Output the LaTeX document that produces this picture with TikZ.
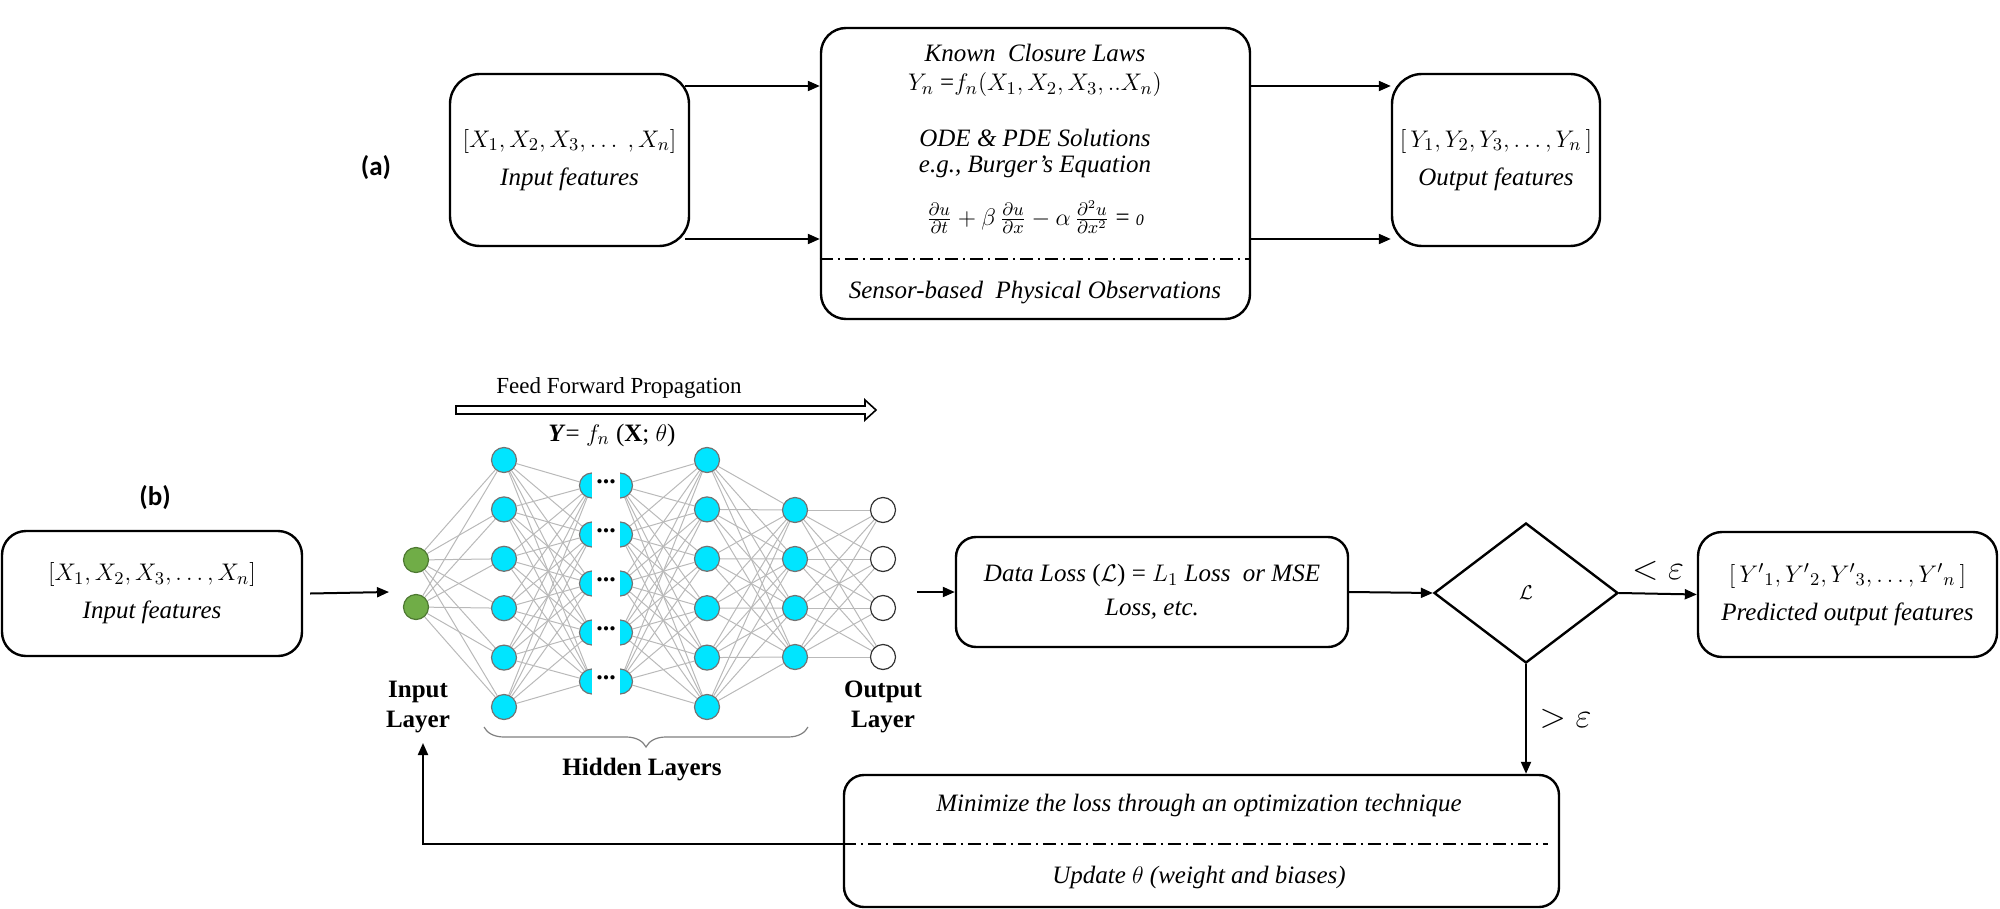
\documentclass[tikz,border=0pt]{standalone}
\usepackage{amsmath}
\usepackage{amssymb}
\usepackage{fontspec}
\setmainfont{Liberation Serif}
\newfontfamily\tagfont{Carlito}
\usepackage{xcolor}
\definecolor{nncyan}{RGB}{0,229,255}
\definecolor{nngreen}{RGB}{112,173,71}
\definecolor{nnedge}{RGB}{185,185,185}
\usepackage{tikz}
\usetikzlibrary{arrows.meta, positioning, calc, shapes.geometric, decorations.pathreplacing, backgrounds}
\tikzstyle{block} = [draw, rectangle, rounded corners=15pt, line width=1.2pt, align=center, font=\fontsize{12.5}{19}\selectfont]
\tikzstyle{txt} = [inner sep=0pt, font=\fontsize{12.5}{15}\selectfont]
\tikzstyle{lbl} = [inner sep=0pt, align=center, font=\bfseries\fontsize{12.5}{15}\selectfont]
\tikzstyle{flow} = [line width=1pt, -{Triangle[length=6pt,width=5pt]}]
\tikzstyle{dashdot} = [line width=1pt, dash pattern=on 6.5pt off 2.5pt on 1pt off 2.5pt]
\tikzstyle{neuron} = [circle, draw=black!55, line width=0.6pt, fill=nncyan, minimum size=12.5pt, inner sep=0pt]
\tikzstyle{inneuron} = [neuron, fill=nngreen, draw=nngreen!70!black]
\tikzstyle{outneuron} = [neuron, fill=white, draw=black!80]
\tikzstyle{synapse} = [draw=nnedge, line width=0.5pt]

\begin{document}
\begin{tikzpicture}[x=0.5pt, y=-0.5pt]
    \useasboundingbox (0,0) rectangle (2000,909);

    % (a) known physics
    \node[font=\tagfont\bfseries\fontsize{13.5}{13.5}\selectfont] (tagA) at (376,168) {(a)};
    \node[block, minimum width=119.5pt, minimum height=86pt] (inA) at (569.5,160)
    {$[X_1, X_2, X_3, \ldots\ , X_n]$\\ \textit{Input features}};
    \node[block, rounded corners=12.5pt, minimum width=214.5pt, minimum height=145.5pt] (midA) at (1035.5,173.5) {};
    \node[block, minimum width=104pt, minimum height=86pt] (outA) at (1496,160)
    {$[\,Y_1, Y_2, Y_3, \ldots, Y_n\,]$\\ \textit{Output features}};

    % texts of the middle block
    \node[txt] (closure) at (1035,53) {\textit{Known\ \ Closure Laws}};
    \node[txt] (closureEq) at (1035,85) {$Y_n$ =$f_n(X_1,X_2,X_3,..X_n)$};
    \node[txt] (ode) at (1035,138) {\textit{ODE \& PDE Solutions}};
    \node[txt] (burger) at (1035,167) {\textit{e.g., Burger's Equation}};
    \node[txt] (burgerEq) at (1035,217)
    {$\frac{\partial u}{\partial t} + \beta\,\frac{\partial u}{\partial x} - \alpha\,\frac{\partial^2 u}{\partial x^2}$ = \textit{\footnotesize 0}};
    \coordinate (sepA) at (0,259);
    \draw[dashdot] (midA.west |- sepA) -- (midA.east |- sepA);
    \node[txt] (sensor) at (1035,293) {\textit{Sensor-based\ \ Physical Observations}};

    % arrows of (a)
    \coordinate (rowA1) at (0,86);
    \coordinate (rowA2) at (0,239);
    \draw[flow] ($(inA.east |- rowA1)+(-5,0)$) -- (midA.west |- rowA1);
    \draw[flow] ($(inA.east |- rowA2)+(-5,0)$) -- (midA.west |- rowA2);
    \draw[flow] (midA.east |- rowA1) -- (outA.west |- rowA1);
    \draw[flow] (midA.east |- rowA2) -- (outA.west |- rowA2);

    % (b) neural network
    \node[font=\tagfont\bfseries\fontsize{13.5}{13.5}\selectfont] (tagB) at (155,498) {(b)};
    \node[block, rounded corners=12pt, minimum width=150pt, minimum height=62.5pt] (inB) at (152,593.5)
    {$[X_1, X_2, X_3, \ldots, X_n]$\\ \textit{Input features}};

    % feed forward
    \node[txt, font=\fontsize{11.5}{14}\selectfont] (ffLbl) at (619,388) {Feed Forward Propagation};
    \draw[line width=0.8pt] (456,406) -- (865,406) -- (865,400) -- (876,410)
        -- (865,420) -- (865,414) -- (456,414) -- cycle;
    \node[txt] (fnLbl) at (612,435) {\textbf{\textit{Y}}= $f_n$ (\textbf{X}; $\theta$)};

    % layers
    \foreach \i in {1,2}
        \node[inneuron] (in\i) at (416,{583.5+(\i-1.5)*47}) {};
    \foreach \i in {1,...,6}
        \node[neuron] (ha\i) at (504,{583.5+(\i-3.5)*49.4}) {};
    \foreach \i in {1,...,5} {
        \node[neuron] (hb\i) at (592,{583.5+(\i-3)*49}) {};
        \node[neuron] (hc\i) at (620,{583.5+(\i-3)*49}) {};
    }
    \foreach \i in {1,...,6}
        \node[neuron] (hd\i) at (707,{583.5+(\i-3.5)*49.4}) {};
    \foreach \i in {1,...,4} {
        \node[neuron] (he\i) at (795,{583.5+(\i-2.5)*49}) {};
        \node[outneuron] (out\i) at (883,{583.5+(\i-2.5)*49}) {};
    }
    \begin{scope}[on background layer]
        \foreach \a/\na/\b/\nb in {in/2/ha/6, ha/6/hb/5, hc/5/hd/6, hd/6/he/4, he/4/out/4}
            \foreach \i in {1,...,\na}
                \foreach \j in {1,...,\nb}
                    \draw[synapse] (\a\i) -- (\b\j);
    \end{scope}

    % cut through the middle layer
    \fill[white] (592,470) rectangle (620,698);
    \foreach \i in {1,...,5}
        \node[inner sep=0pt, font=\bfseries\fontsize{13}{13}\selectfont] (dots\i) at (606,{580+(\i-3)*49}) {...};

    \node[lbl] (inLbl) at (418,707) {Input\\Layer};
    \node[lbl] (outLbl) at (883,707) {Output\\Layer};
    \draw[decorate, decoration={brace, mirror, amplitude=10pt}, draw=gray, line width=0.6pt] (484,727) -- (808,727);
    \node[lbl] (hidLbl) at (642,770) {Hidden Layers};

    % loss and check
    \node[block, rounded corners=10pt, minimum width=196pt, minimum height=55pt, font=\fontsize{12.5}{17}\selectfont] (lossB) at (1152,592)
    {\textit{Data Loss} ($\mathcal{L}$) = $L_1$ \textit{Loss\ \ or MSE}\\ \textit{Loss, etc.}};
    \node[draw, diamond, aspect=1.31, minimum width=92pt, minimum height=70pt, inner sep=0pt, line width=1.2pt] (decide) at (1526,593) {$\mathcal{L}$};
    \node[block, rounded corners=12pt, minimum width=149.5pt, minimum height=62.5pt] (predB) at (1847.5,594.5)
    {$[\,{Y'}_1, {Y'}_2, {Y'}_3, \ldots, {Y'}_n\,]$\\ \textit{Predicted output features}};
    \node[block, rounded corners=10pt, minimum width=357.5pt, minimum height=66pt] (optB) at (1201.5,841) {};
    \node[txt] (minLbl) at (1199,805) {\textit{Minimize the loss through an optimization technique}};
    \coordinate (sepB) at (0,844);
    \draw[dashdot] (optB.west |- sepB) -- ($(optB.east |- sepB)+(-12,0)$);
    \node[txt] (updLbl) at (1199,877) {\textit{Update $\theta$ (weight and biases)}};

    % arrows of (b)
    \coordinate (nnIn) at (389,592);
    \coordinate (nnOut) at (917,592);
    \coordinate (fbTip) at (423,743);
    \draw[flow] ($(inB.east)+(7,0)$) -- (nnIn);
    \draw[flow] (nnOut) -- (lossB.west);
    \draw[flow] (lossB.east) -- (decide.west);
    \draw[flow] (decide.east) -- (predB.west) node[midway, above=3pt, font=\fontsize{16}{16}\selectfont] {$<\varepsilon$};
    \draw[flow] (decide.south) -- (decide.south |- optB.north) node[midway, right=3pt, font=\fontsize{16}{16}\selectfont] {$>\varepsilon$};
    \draw[flow] (optB.west |- sepB) -| (fbTip);
\end{tikzpicture}
\end{document}
